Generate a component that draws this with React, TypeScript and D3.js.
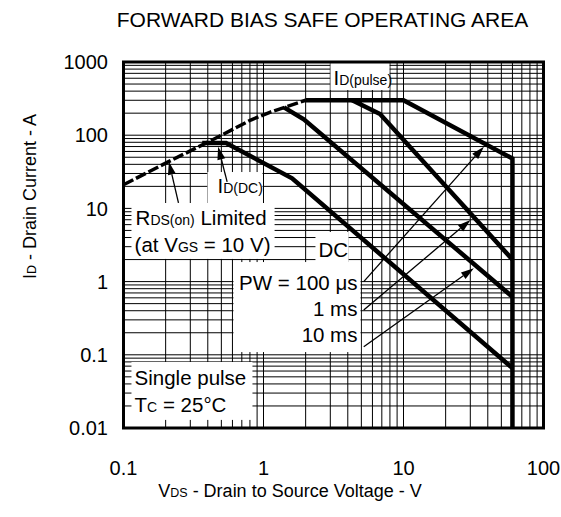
import React from 'react';
import * as d3 from 'd3';

const W = 561;
const H = 517;
const PLOT = { left: 123.5, right: 543.5, top: 62, bottom: 428 };
const FONT = "'Liberation Sans', Arial, Helvetica, sans-serif";

// Axis ticks
const xTickValues = [0.1, 1, 10, 100];
const xTickLabels = ['0.1', '1', '10', '100'];
const yTickValues = [0.01, 0.1, 1, 10, 100, 1000];
const yTickLabels = ['0.01', '0.1', '1', '10', '100', '1000'];

// Curves (VDS in V, ID in A)
const rdsLimitV = [0.1, 0.21, 0.43, 0.81, 1.12, 2];
const rdsLimitI = [21, 43.5, 86, 161, 207, 300];
const pw100usV = [2, 10, 60, 60];
const pw100usI = [300, 300, 48, 0.01];
const pw1msV = [4.3, 6.8, 60];
const pw1msI = [300, 195, 2.0];
const pw10msV = [1.4, 1.94, 60];
const pw10msI = [240, 165, 0.62];
const dcV = [0.365, 0.54, 1.6, 60];
const dcI = [78, 78, 25.8, 0.066];

// Annotation arrows: [fromV, fromI] -> [toV, toI]
const arrowFrom = [
  [0.247, 11.9],
  [0.55, 23],
  [5.2, 1.0],
  [5.2, 0.41],
  [5.2, 0.129],
];
const arrowTo = [
  [0.211, 43.5],
  [0.474, 69.7],
  [37.5, 69.7],
  [30.1, 6.95],
  [31.8, 1.52],
];

// White label boxes: [v0, v1, i0, i1]
const boxes = [
  [3.01, 7.94, 414, 1000],
  [0.114, 1.2, 2.04, 11.85],
  [0.398, 0.984, 11.85, 31.4],
  [2.35, 4.05, 1.8, 4.76],
  [0.61, 4.93, 0.109, 1.85],
  [0.114, 0.834, 0.0129, 0.0797],
];

type Part = { t: string; sub?: boolean };
const labelParts: Part[][] = [
  [{ t: 'I' }, { t: 'D(pulse)', sub: true }],
  [{ t: 'I' }, { t: 'D(DC)', sub: true }],
  [{ t: 'R' }, { t: 'DS(on)', sub: true }, { t: ' Limited' }],
  [{ t: '(at V' }, { t: 'GS', sub: true }, { t: ' = 10 V)' }],
  [{ t: 'DC' }],
  [{ t: 'PW = 100 \u03BCs' }],
  [{ t: '1 ms' }],
  [{ t: '10 ms' }],
  [{ t: 'Single pulse' }],
  [{ t: 'T' }, { t: 'C', sub: true }, { t: ' = 25\u00B0C' }],
];
const labelV = [3.16, 0.469, 0.122, 0.12, 2.47, 4.69, 4.69, 4.69, 0.12, 0.12];
const labelI = [485, 16.2, 5.93, 2.54, 2.17, 0.768, 0.339, 0.15, 0.0387, 0.0165];
const labelAnchor = ['start', 'start', 'start', 'start', 'start', 'end', 'end', 'end', 'start', 'start'];

export default function App() {
  const x = d3.scaleLog().domain([0.1, 100]).range([PLOT.left, PLOT.right]);
  const y = d3.scaleLog().domain([0.01, 1000]).range([PLOT.bottom, PLOT.top]);

  const minorX: number[] = [];
  for (let e = -1; e < 2; e++) for (let k = 1; k <= 9; k++) minorX.push(k * Math.pow(10, e));
  minorX.push(100);
  const minorY: number[] = [];
  for (let e = -2; e < 3; e++) for (let k = 1; k <= 9; k++) minorY.push(k * Math.pow(10, e));
  minorY.push(1000);

  const line = d3
    .line<[number, number]>()
    .x((d) => x(d[0]))
    .y((d) => y(d[1]));
  const zip = (a: number[], b: number[]) => a.map((v, i) => [v, b[i]] as [number, number]);

  const mainSize = 20.5;
  const subSize = 14;

  const arrows = arrowFrom.map((f, i) => {
    const t = arrowTo[i];
    const x1 = x(f[0]), y1 = y(f[1]), x2 = x(t[0]), y2 = y(t[1]);
    const dx = x2 - x1, dy = y2 - y1;
    const L = Math.hypot(dx, dy);
    const ux = dx / L, uy = dy / L;
    const hl = 13, hw = 4;
    const bx = x2 - ux * hl, by = y2 - uy * hl;
    const pts = `${x2},${y2} ${bx - uy * hw},${by + ux * hw} ${bx + uy * hw},${by - ux * hw}`;
    return { x1, y1, bx, by, pts };
  });

  return (
    <svg
      width={W}
      height={H}
      style={{ position: 'absolute', left: 0, top: 0, background: '#fff' }}
      fontFamily={FONT}
    >
      <rect x={0} y={0} width={W} height={H} fill="#fff" />
      <text x={322.5} y={26.5} fontSize={21} textAnchor="middle" fill="#000">
        FORWARD BIAS SAFE OPERATING AREA
      </text>

      {/* grid */}
      <g stroke="#000" strokeWidth={1}>
        {minorX.map((v, i) => (
          <line key={'gx' + i} x1={x(v)} x2={x(v)} y1={PLOT.top} y2={PLOT.bottom} />
        ))}
        {minorY.map((v, i) => (
          <line key={'gy' + i} x1={PLOT.left} x2={PLOT.right} y1={y(v)} y2={y(v)} />
        ))}
      </g>

      {/* white label boxes */}
      {boxes.map((b, i) => (
        <rect
          key={'b' + i}
          x={x(b[0])}
          y={y(b[3])}
          width={x(b[1]) - x(b[0])}
          height={y(b[2]) - y(b[3])}
          fill="#fff"
        />
      ))}

      {/* curves */}
      <g fill="none" stroke="#000" strokeLinejoin="miter">
        <path d={line(zip(rdsLimitV, rdsLimitI)) || ''} strokeWidth={3.5} strokeDasharray="11 3" />
        <path d={line(zip(pw100usV, pw100usI)) || ''} strokeWidth={4.5} />
        <path d={line(zip(pw1msV, pw1msI)) || ''} strokeWidth={4.5} />
        <path d={line(zip(pw10msV, pw10msI)) || ''} strokeWidth={4.5} />
        <path d={line(zip(dcV, dcI)) || ''} strokeWidth={4.5} />
      </g>

      {/* arrows */}
      {arrows.map((a, i) => (
        <g key={'a' + i}>
          <line x1={a.x1} y1={a.y1} x2={a.bx} y2={a.by} stroke="#000" strokeWidth={1.3} />
          <polygon points={a.pts} fill="#000" />
        </g>
      ))}

      {/* labels */}
      {labelParts.map((parts, i) => (
        <text
          key={'l' + i}
          x={x(labelV[i])}
          y={y(labelI[i])}
          fontSize={mainSize}
          textAnchor={labelAnchor[i] as any}
          fill="#000"
        >
          {parts.map((p, j) => (
            <tspan key={j} fontSize={p.sub ? subSize : mainSize}>
              {p.t}
            </tspan>
          ))}
        </text>
      ))}

      {/* frame */}
      <rect
        x={PLOT.left}
        y={PLOT.top}
        width={PLOT.right - PLOT.left}
        height={PLOT.bottom - PLOT.top}
        fill="none"
        stroke="#000"
        strokeWidth={3}
      />

      {/* tick labels */}
      {xTickValues.map((v, i) => (
        <text key={'xt' + i} x={x(v)} y={475} fontSize={20} textAnchor="middle" fill="#000">
          {xTickLabels[i]}
        </text>
      ))}
      {yTickValues.map((v, i) => (
        <text
          key={'yt' + i}
          x={108}
          y={y(v)}
          dy="0.36em"
          fontSize={20}
          textAnchor="end"
          fill="#000"
        >
          {yTickLabels[i]}
        </text>
      ))}

      {/* axis titles */}
      <text x={290} y={497} fontSize={18} textAnchor="middle" fill="#000">
        <tspan>V</tspan>
        <tspan fontSize={12.5}>DS</tspan>
        <tspan> - Drain to Source Voltage - V</tspan>
      </text>
      <text
        transform={`translate(36, ${196.5}) rotate(-90)`}
        fontSize={18}
        textAnchor="middle"
        fill="#000"
      >
        <tspan>I</tspan>
        <tspan fontSize={12.5}>D</tspan>
        <tspan> - Drain Current - A</tspan>
      </text>
    </svg>
  );
}
